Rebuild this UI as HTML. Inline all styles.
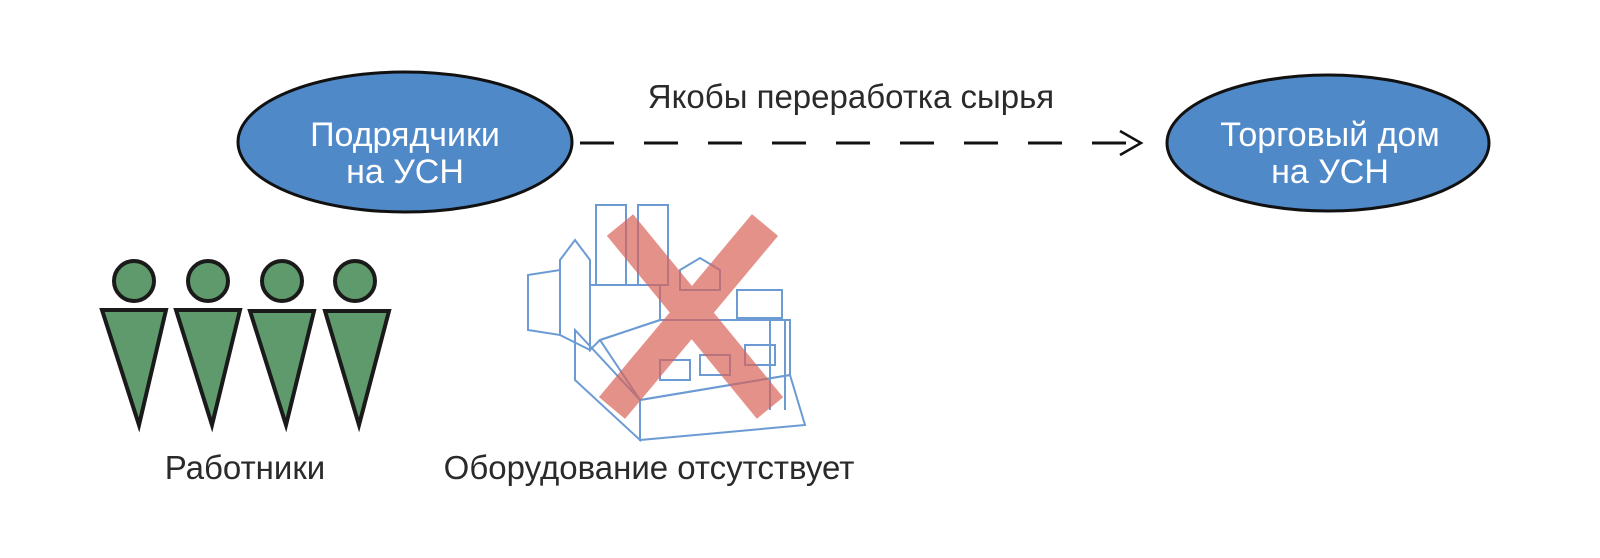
<!DOCTYPE html>
<html><head><meta charset="utf-8"><style>
html,body{margin:0;padding:0;background:#fff;width:1600px;height:558px;overflow:hidden}
svg text{font-family:"Liberation Sans",sans-serif;fill:#2a2a2a}
</style></head><body>
<svg width="1600" height="558" viewBox="0 0 1600 558" xmlns="http://www.w3.org/2000/svg">
<ellipse cx="405" cy="142" rx="167" ry="70" fill="#5089c8" stroke="#111" stroke-width="3"/>
<text x="405" y="146" font-size="34" text-anchor="middle" style="fill:#fff">Подрядчики</text>
<text x="405" y="183" font-size="34" text-anchor="middle" style="fill:#fff">на УСН</text>
<ellipse cx="1328" cy="143" rx="161" ry="68" fill="#5089c8" stroke="#111" stroke-width="3"/>
<text x="1330" y="146" font-size="34" text-anchor="middle" style="fill:#fff">Торговый дом</text>
<text x="1330" y="183" font-size="34" text-anchor="middle" style="fill:#fff">на УСН</text>
<line x1="580" y1="143" x2="1138" y2="143" stroke="#111" stroke-width="3" stroke-dasharray="34 30"/>
<polyline points="1120,131 1141,143 1120,155" fill="none" stroke="#111" stroke-width="2.5"/>
<text x="851" y="108" font-size="33" text-anchor="middle">Якобы переработка сырья</text>
<g stroke="#1a1a1a" stroke-width="4" fill="#5e9a6c">
<circle cx="134" cy="281" r="20"/><circle cx="208" cy="281" r="20"/><circle cx="282" cy="281" r="20"/><circle cx="355" cy="281" r="20"/>
<polygon points="102,310 166,310 139,425"/>
<polygon points="176,310 240,310 212,425"/>
<polygon points="250,311 314,311 286,425"/>
<polygon points="325,311 389,311 359,425"/>
</g>
<g stroke="#6c9bd3" stroke-width="2" fill="none">
<rect x="596" y="205" width="30" height="80"/><rect x="638" y="205" width="30" height="80"/>
<polygon points="528,275 560,270 560,335 528,330"/>
<polygon points="560,260 575,240 590,260 590,350 560,335"/>
<polygon points="590,285 660,285 660,320 600,340 590,350"/>
<polygon points="600,340 660,320 790,320 790,375 640,400"/>
<polygon points="575,330 640,400 640,440 575,380"/>
<polygon points="640,400 790,375 805,425 640,440"/>
<rect x="737" y="290" width="45" height="28"/>
<line x1="770" y1="320" x2="770" y2="410"/><line x1="785" y1="320" x2="785" y2="410"/>
<rect x="660" y="360" width="30" height="20"/><rect x="700" y="355" width="30" height="20"/><rect x="745" y="345" width="30" height="20"/>
<polygon points="680,270 700,258 720,270 720,290 680,290"/>
</g>
<g stroke="#d9635a" stroke-width="34" opacity="0.7" stroke-linecap="butt">
<line x1="620" y1="225" x2="770" y2="408"/>
<line x1="765" y1="225" x2="612" y2="408"/>
</g>
<text x="245" y="479" font-size="33" text-anchor="middle">Работники</text>
<text x="649" y="479" font-size="33" text-anchor="middle">Оборудование отсутствует</text>
</svg>
</body></html>
